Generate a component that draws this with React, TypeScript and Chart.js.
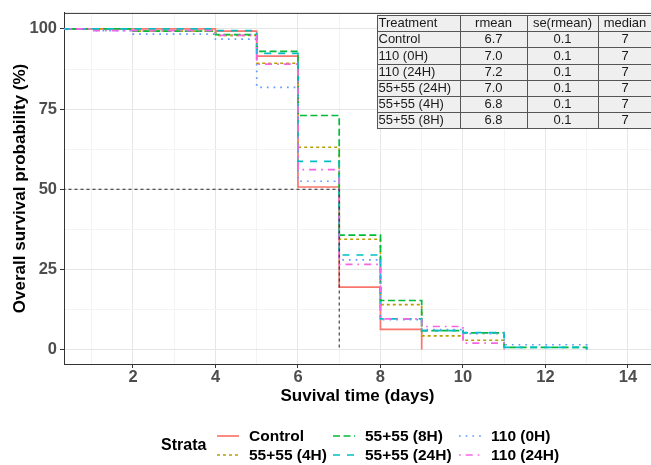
import React, { useEffect, useRef } from 'react';
import { Chart, registerables } from 'chart.js';

Chart.register(...registerables);

// Kaplan–Meier estimates: event day and survival (%) just after that day
const STRATA = ['Control', '55+55 (4H)', '55+55 (8H)', '55+55 (24H)', '110 (0H)', '110 (24H)'];

const CONTROL_DAYS = [0, 4, 5, 6, 7, 8, 9];
const CONTROL_SURV = [100, 99.3, 91.5, 50.7, 19.5, 6.3, 0];

const S4H_DAYS = [0, 2, 4, 5, 6, 7, 8, 9, 10, 11];
const S4H_SURV = [100, 99.3, 98.0, 89.3, 63.1, 34.4, 14.0, 4.3, 2.9, 0];

const S8H_DAYS = [0, 2, 4, 5, 6, 7, 8, 9, 10, 11, 13];
const S8H_SURV = [100, 99.3, 98.2, 93.0, 73.0, 35.7, 15.3, 5.9, 5.2, 0.7, 0];

const S24H_DAYS = [0, 4, 5, 6, 7, 8, 9, 10, 11, 13];
const S24H_SURV = [100, 99.5, 92.4, 58.7, 29.5, 9.6, 5.9, 5.3, 0.7, 0];

const D0H_DAYS = [0, 1, 2, 4, 5, 6, 7, 8, 9, 10, 11, 13];
const D0H_SURV = [100, 99.5, 98.4, 96.8, 81.8, 52.5, 28.0, 9.3, 6.2, 5.0, 1.5, 0];

const D24H_DAYS = [0, 1, 4, 5, 6, 7, 8, 9, 10, 11];
const D24H_SURV = [100, 99.5, 98.0, 89.0, 56.1, 26.6, 9.6, 7.2, 2.0, 0];

const SERIES_DAYS = [CONTROL_DAYS, S4H_DAYS, S8H_DAYS, S24H_DAYS, D0H_DAYS, D24H_DAYS];
const SERIES_SURV = [CONTROL_SURV, S4H_SURV, S8H_SURV, S24H_SURV, D0H_SURV, D24H_SURV];

const MEDIAN_DAY = 7;
const MEDIAN_LEVEL = 50;

// Summary table
const TABLE_HEAD = ['Treatment', 'rmean', 'se(rmean)', 'median'];
const TABLE_TREATMENT = ['Control', '110 (0H)', '110 (24H)', '55+55 (24H)', '55+55 (4H)', '55+55 (8H)'];
const TABLE_RMEAN = ['6.7', '7.0', '7.2', '7.0', '6.8', '6.8'];
const TABLE_SE = ['0.1', '0.1', '0.1', '0.1', '0.1', '0.1'];
const TABLE_MEDIAN = ['7', '7', '7', '7', '7', '7'];

// Styling
const COLORS = ['#F8766D', '#B79F00', '#00BA38', '#00BFC4', '#619CFF', '#F564E3'];
const LW = 1.7;
const DASHES: number[][] = [[], [3, 3], [7, 3.5], [7, 7], [1.7, 5], [1.7, 5, 7, 5]];
const FONT = '"Liberation Sans", Arial, Helvetica, sans-serif';
const GRID_MAJOR = '#e6e6e6';
const GRID_MINOR = '#f3f3f3';
const AXIS_DARK = '#333333';

const panelBorder = {
  id: 'panelBorder',
  afterDraw(chart: any) {
    const { ctx, chartArea } = chart;
    ctx.save();
    ctx.strokeStyle = AXIS_DARK;
    ctx.lineWidth = 1;
    ctx.beginPath();
    ctx.moveTo(chartArea.left, chartArea.top + 0.5);
    ctx.lineTo(chartArea.right + 5, chartArea.top + 0.5);
    ctx.stroke();
    ctx.restore();
  },
};

const summaryTable = {
  id: 'summaryTable',
  afterDraw(chart: any) {
    const ctx = chart.ctx;
    const cols = [377, 460, 527, 598, 652];
    const top = 15;
    const rowH = 16.2;
    const rows = [TABLE_HEAD].concat(
      TABLE_TREATMENT.map((t, i) => [t, TABLE_RMEAN[i], TABLE_SE[i], TABLE_MEDIAN[i]])
    );
    const bottom = top + rowH * rows.length;
    ctx.save();
    ctx.fillStyle = '#efefef';
    ctx.fillRect(cols[0], top, cols[cols.length - 1] - cols[0], bottom - top);
    ctx.strokeStyle = '#555555';
    ctx.lineWidth = 1;
    ctx.beginPath();
    for (let r = 0; r <= rows.length; r++) {
      const y = Math.round(top + r * rowH) + 0.5;
      ctx.moveTo(cols[0], y);
      ctx.lineTo(cols[cols.length - 1], y);
    }
    for (const c of cols) {
      ctx.moveTo(c + 0.5, top);
      ctx.lineTo(c + 0.5, bottom);
    }
    ctx.stroke();
    ctx.font = `13px ${FONT}`;
    ctx.fillStyle = '#1a1a1a';
    ctx.textBaseline = 'middle';
    rows.forEach((row, r) => {
      const y = top + r * rowH + rowH / 2 + 0.5;
      row.forEach((txt, c) => {
        if (c === 0) {
          ctx.textAlign = 'left';
          ctx.fillText(txt, cols[0] + 1.5, y);
        } else {
          ctx.textAlign = 'center';
          ctx.fillText(txt, (cols[c] + cols[c + 1]) / 2, y);
        }
      });
    });
    ctx.restore();
  },
};

const strataLegend = {
  id: 'strataLegend',
  afterDraw(chart: any) {
    const ctx = chart.ctx;
    const keyX = [217, 333, 459];
    const rowY = [436, 455];
    ctx.save();
    ctx.textBaseline = 'middle';
    ctx.textAlign = 'left';
    ctx.fillStyle = '#000';
    ctx.font = `bold 16px ${FONT}`;
    ctx.fillText('Strata', 161, 446);
    ctx.font = `bold 15.5px ${FONT}`;
    STRATA.forEach((name, i) => {
      const col = Math.floor(i / 2);
      const row = i % 2;
      const x = keyX[col];
      const y = rowY[row];
      ctx.strokeStyle = COLORS[i];
      ctx.lineWidth = LW;
      ctx.setLineDash(DASHES[i]);
      ctx.beginPath();
      ctx.moveTo(x, y);
      ctx.lineTo(x + 22, y);
      ctx.stroke();
      ctx.setLineDash([]);
      ctx.fillStyle = '#000';
      ctx.fillText(name, x + 32, y + 0.5);
    });
    ctx.restore();
  },
};

export default function App() {
  const canvasRef = useRef<HTMLCanvasElement | null>(null);

  useEffect(() => {
    if (!canvasRef.current) return;

    const curves = STRATA.map((name, i) => ({
      label: name,
      data: SERIES_DAYS[i].map((d, k) => ({ x: d, y: SERIES_SURV[i][k] })),
      borderColor: COLORS[i],
      backgroundColor: COLORS[i],
      borderWidth: LW,
      borderDash: DASHES[i],
      stepped: true as const,
      pointRadius: 0,
      fill: false,
      order: -i,
    }));

    const medianLine = {
      label: 'median',
      data: [
        { x: 0, y: MEDIAN_LEVEL },
        { x: MEDIAN_DAY, y: MEDIAN_LEVEL },
        { x: MEDIAN_DAY, y: 0 },
      ],
      borderColor: '#222222',
      borderWidth: 1,
      borderDash: [3, 3],
      stepped: false,
      pointRadius: 0,
      fill: false,
      order: -10,
    };

    const tickFont = { family: FONT, size: 16.5, weight: 'bold' as const };
    const titleFont = { family: FONT, size: 17, weight: 'bold' as const };

    const chart = new Chart(canvasRef.current, {
      type: 'line',
      data: { datasets: [...curves, medianLine] as any },
      options: {
        animation: false,
        responsive: false,
        maintainAspectRatio: false,
        layout: { padding: { left: 10, right: 0, top: 12, bottom: 58 } },
        plugins: {
          legend: { display: false },
          tooltip: { enabled: false },
        },
        elements: { point: { radius: 0 }, line: { tension: 0 } },
        scales: {
          x: {
            type: 'linear',
            min: 0.327,
            max: 14.56,
            ticks: {
              stepSize: 1,
              includeBounds: false,
              autoSkip: false,
              maxRotation: 0,
              padding: 0,
              color: '#4d4d4d',
              font: tickFont,
              callback: (v: any) => (Number(v) % 2 === 0 ? String(v) : ''),
            },
            grid: {
              color: (c: any) => (c.tick && c.tick.value % 2 === 0 ? GRID_MAJOR : GRID_MINOR),
              tickColor: (c: any) => (c.tick && c.tick.value % 2 === 0 ? AXIS_DARK : 'rgba(0,0,0,0)'),
              tickLength: 4,
              lineWidth: 1,
            },
            border: { display: true, color: AXIS_DARK, width: 1 },
            title: {
              display: true,
              text: 'Suvival time (days)',
              color: '#000',
              font: titleFont,
              padding: 0,
            },
            afterFit: (s: any) => {
              s.height = 43;
            },
          },
          y: {
            type: 'linear',
            min: -4.5,
            max: 105,
            ticks: {
              stepSize: 12.5,
              includeBounds: false,
              autoSkip: false,
              padding: 3,
              color: '#4d4d4d',
              font: tickFont,
              callback: (v: any) => (Number(v) % 25 === 0 ? String(v) : ''),
            },
            grid: {
              color: (c: any) => (c.tick && c.tick.value % 25 === 0 ? GRID_MAJOR : GRID_MINOR),
              tickColor: (c: any) => (c.tick && c.tick.value % 25 === 0 ? AXIS_DARK : 'rgba(0,0,0,0)'),
              tickLength: 4,
              lineWidth: 1,
            },
            border: { display: true, color: AXIS_DARK, width: 1 },
            title: {
              display: true,
              text: 'Overall survival probability (%)',
              color: '#000',
              font: titleFont,
              padding: 0,
            },
            afterFit: (s: any) => {
              s.width = 54;
            },
          },
        },
      },
      plugins: [panelBorder, summaryTable, strataLegend],
    });

    return () => chart.destroy();
  }, []);

  return (
    <div style={{ position: 'absolute', left: 0, top: 0, width: 651, height: 465, background: '#fff' }}>
      <canvas ref={canvasRef} width={651} height={465} style={{ display: 'block' }} />
    </div>
  );
}
